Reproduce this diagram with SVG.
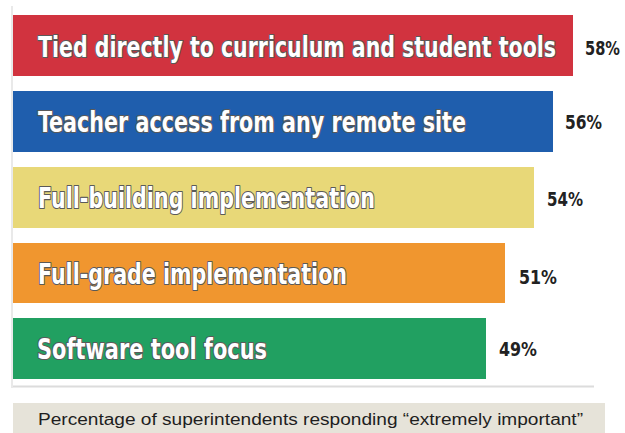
<svg xmlns="http://www.w3.org/2000/svg" width="625" height="433" viewBox="0 0 625 433">
  <style>
    .lbl { font-family: "Liberation Sans Narrow", "DejaVu Sans Condensed", "Liberation Sans", sans-serif; font-weight: bold; font-size: 28px; fill: #ffffff; stroke: #5a5a5a; stroke-width: 2.2px; paint-order: stroke; stroke-linejoin: round; }
    .pct { font-family: "Liberation Sans Narrow", "DejaVu Sans Condensed", "Liberation Sans", sans-serif; font-weight: bold; font-size: 19px; fill: #222222; }
    .note { font-family: "Liberation Sans", Arial, sans-serif; font-size: 16px; fill: #1e1e1e; }
  </style>
  <rect x="0" y="0" width="625" height="433" fill="#ffffff"/>
  <g id="frame">
    <line x1="12" y1="6" x2="12" y2="388" stroke="#e2e2e2" stroke-width="1.5"/>
    <line x1="13" y1="386.5" x2="594" y2="386.5" stroke="#dcdcdc" stroke-width="2"/>
  </g>
  <g id="bar-curriculum">
    <rect x="13" y="15" width="560" height="61" fill="#d1333f"/>
    <text class="lbl" x="38" y="57" textLength="518" lengthAdjust="spacingAndGlyphs">Tied directly to curriculum and student tools</text>
    <text class="pct" x="585" y="55" textLength="35" lengthAdjust="spacingAndGlyphs">58%</text>
  </g>
  <g id="bar-remote">
    <rect x="13" y="91" width="540" height="61" fill="#1f5ead"/>
    <text class="lbl" x="38" y="132" textLength="428" lengthAdjust="spacingAndGlyphs">Teacher access from any remote site</text>
    <text class="pct" x="565" y="129" textLength="37" lengthAdjust="spacingAndGlyphs">56%</text>
  </g>
  <g id="bar-building">
    <rect x="13" y="167" width="521" height="61" fill="#e8d878"/>
    <text class="lbl" x="38" y="208" textLength="337" lengthAdjust="spacingAndGlyphs">Full-building implementation</text>
    <text class="pct" x="547" y="206" textLength="36" lengthAdjust="spacingAndGlyphs">54%</text>
  </g>
  <g id="bar-grade">
    <rect x="13" y="243" width="492" height="60" fill="#f0962f"/>
    <text class="lbl" x="38" y="284" textLength="309" lengthAdjust="spacingAndGlyphs">Full-grade implementation</text>
    <text class="pct" x="519" y="284" textLength="38" lengthAdjust="spacingAndGlyphs">51%</text>
  </g>
  <g id="bar-software">
    <rect x="13" y="318" width="473" height="61" fill="#21a061"/>
    <text class="lbl" x="37" y="359" textLength="230" lengthAdjust="spacingAndGlyphs">Software tool focus</text>
    <text class="pct" x="499" y="356" textLength="38" lengthAdjust="spacingAndGlyphs">49%</text>
  </g>
  <g id="caption">
    <rect x="13" y="403" width="592" height="30" fill="#e6e3d9"/>
    <text class="note" x="38" y="425" textLength="545" lengthAdjust="spacingAndGlyphs">Percentage of superintendents responding “extremely important”</text>
  </g>
</svg>
